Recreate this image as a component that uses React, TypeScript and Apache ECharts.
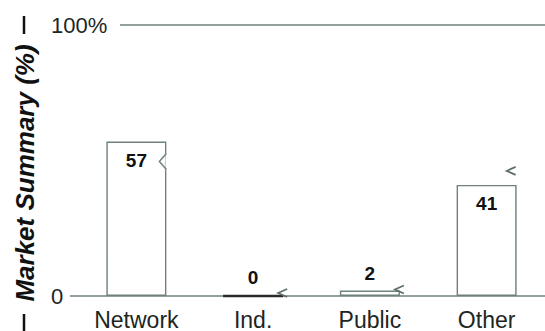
import React, { useEffect, useRef } from "react";
import * as echarts from "echarts";

const categories = ["Network", "Ind.", "Public", "Other"];
const values = [57, 0, 2, 41];
const yTicks = [0, 100];
const yTickLabels = ["0", "100%"];
const yTitle = "Market Summary (%)";

const INK = "#1c2622";
const LINE = "#6f817a";
const FONT = "'Liberation Sans', Arial, Helvetica, sans-serif";

export default function App() {
  const ref = useRef<HTMLDivElement>(null);

  useEffect(() => {
    if (!ref.current) return;
    const chart = echarts.init(ref.current, null, { renderer: "svg" });
    chart.setOption({
      animation: false,
      backgroundColor: "#ffffff",
      grid: { left: 78, right: -8, top: 25, bottom: 33 },
      xAxis: {
        type: "category",
        data: categories,
        axisLine: { show: false },
        axisTick: { show: false },
        axisLabel: {
          margin: 12,
          fontSize: 23,
          color: INK,
          fontFamily: FONT,
        },
      },
      yAxis: {
        type: "value",
        min: yTicks[0],
        max: yTicks[yTicks.length - 1],
        interval: yTicks[1] - yTicks[0],
        splitLine: { show: false },
        axisLine: { show: false },
        axisTick: { show: false },
        axisLabel: {
          align: "left",
          margin: 27,
          fontSize: 22,
          color: INK,
          fontFamily: FONT,
          formatter: (v: number) => yTickLabels[yTicks.indexOf(v)] ?? "",
        },
      },
      series: [
        {
          type: "bar",
          barWidth: 60,
          data: values.map((v) => ({
            value: v,
            itemStyle:
              v === 0
                ? { color: "#222", borderColor: "#2a2a2a", borderWidth: 2.5 }
                : { color: "#ffffff", borderColor: LINE, borderWidth: 1.4 },
            label: {
              show: true,
              position: v > 20 ? "insideTop" : "top",
              distance: v > 20 ? 9 : 8,
              fontSize: 19,
              fontWeight: "bold",
              color: "#111",
              fontFamily: FONT,
            },
          })),
        },
      ],
    });

    const y0 = chart.convertToPixel({ yAxisIndex: 0 }, yTicks[0]) as number;
    const y100 = chart.convertToPixel({ yAxisIndex: 0 }, yTicks[1]) as number;
    const halfBar = 30;
    const graphics: any[] = [
      {
        type: "line",
        shape: { x1: 120, y1: y100, x2: 545, y2: y100 },
        style: { stroke: LINE, lineWidth: 1.6 },
        z: 0,
      },
      {
        type: "line",
        shape: { x1: 70, y1: y0, x2: 545, y2: y0 },
        style: { stroke: LINE, lineWidth: 1.6 },
        z: 0,
      },
      {
        type: "text",
        x: 25,
        y: 173,
        rotation: Math.PI / 2,
        style: {
          text: yTitle,
          align: "center",
          verticalAlign: "middle",
          font: `italic bold 26px ${FONT}`,
          fill: "#111",
        },
      },
      {
        type: "line",
        shape: { x1: 24, y1: 16, x2: 24, y2: 34 },
        style: { stroke: "#111", lineWidth: 2.5 },
      },
      {
        type: "line",
        shape: { x1: 24, y1: 314, x2: 24, y2: 331 },
        style: { stroke: "#111", lineWidth: 2.5 },
      },
    ];

    // decorative chevrons next to each bar (offsets from bar top-right corner)
    const chevronOffsets = [
      { dx: 0, dy: 20, notch: true },
      { dx: 0, dy: -3, notch: false },
      { dx: 0, dy: -1, notch: false },
      { dx: -5, dy: -14, notch: false },
    ];
    categories.forEach((c, i) => {
      const p = chart.convertToPixel({ seriesIndex: 0 }, [i, values[i]]) as number[];
      const right = p[0] + halfBar;
      const top = p[1];
      const o = chevronOffsets[i];
      const cx = right + o.dx;
      const cy = top + o.dy;
      if (o.notch) {
        graphics.push({
          type: "rect",
          shape: { x: cx - 1, y: cy - 8, width: 3, height: 16 },
          style: { fill: "#ffffff" },
          z: 10,
        });
        graphics.push({
          type: "polyline",
          shape: { points: [[cx, cy - 8], [cx - 7, cy], [cx, cy + 8]] },
          style: { stroke: LINE, lineWidth: 1.5, fill: null },
          z: 11,
        });
      } else {
        graphics.push({
          type: "polyline",
          shape: { points: [[cx + 4, cy - 4], [cx - 5, cy], [cx + 4, cy + 4]] },
          style: { stroke: "#5d6e68", lineWidth: 1.7, fill: null },
          z: 11,
        });
      }
    });
    chart.setOption({ graphic: graphics });

    return () => chart.dispose();
  }, []);

  return (
    <div
      ref={ref}
      style={{ position: "fixed", left: 0, top: 0, width: 545, height: 331 }}
    />
  );
}
